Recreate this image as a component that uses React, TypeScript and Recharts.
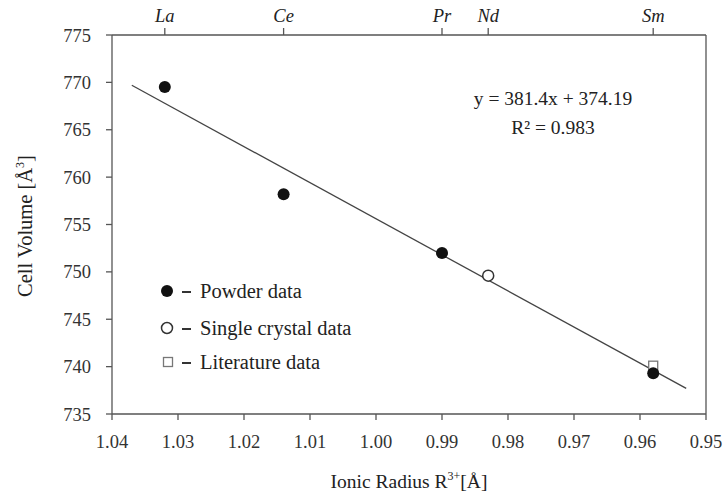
import React from 'react';
import { ScatterChart, Scatter, XAxis, YAxis, ReferenceLine } from 'recharts';

// Powder data (filled circles)
const powderRadius = [1.032, 1.014, 0.99, 0.958];
const powderVolume = [769.5, 758.2, 752.0, 739.3];
// Single crystal data (open circle)
const singleRadius = [0.983];
const singleVolume = [749.6];
// Literature data (open square)
const litRadius = [0.958];
const litVolume = [740.1];
// Fit line end points
const fitRadius = [1.037, 0.953];
const fitVolume = [769.7, 737.7];
// Top axis element labels
const elementNames = ['La', 'Ce', 'Pr', 'Nd', 'Sm'];
const elementRadii = [1.032, 1.014, 0.99, 0.983, 0.958];
// Tick values
const xTicks = [1.04, 1.03, 1.02, 1.01, 1.0, 0.99, 0.98, 0.97, 0.96, 0.95];
const yTicks = [735, 740, 745, 750, 755, 760, 765, 770, 775];

const powderData = powderRadius.map((x, i) => ({ x, y: powderVolume[i] }));
const singleData = singleRadius.map((x, i) => ({ x, y: singleVolume[i] }));
const litData = litRadius.map((x, i) => ({ x, y: litVolume[i] }));
const elementData = elementRadii.map((x) => ({ x, y: 775 }));

const FONT = '"Liberation Serif", "Times New Roman", serif';
const AXIS = '#555';

const FilledDot = (p: any) => <circle cx={p.cx} cy={p.cy} r={6} fill="#111" />;
const OpenDot = (p: any) => (
  <circle cx={p.cx} cy={p.cy} r={5.5} fill="#fff" stroke="#333" strokeWidth={1.5} />
);
const SquareDot = (p: any) => (
  <rect x={p.cx - 4.5} y={p.cy - 4.5} width={9} height={9} fill="#fff" stroke="#777" strokeWidth={1.3} />
);
const NoDot = () => <g />;

const TopTick = (p: any) => {
  const idx = elementRadii.indexOf(p.payload.value);
  return (
    <text x={p.x} y={p.y} textAnchor="middle" fontFamily={FONT} fontSize={18.5} fontStyle="italic" fill="#222">
      {elementNames[idx] ?? ''}
    </text>
  );
};

export default function App() {
  return (
    <div style={{ position: 'absolute', left: 0, top: 0, width: 723, height: 492, background: '#fff' }}>
      <ScatterChart width={723} height={492} margin={{ top: 0, right: 17, bottom: 28, left: 32 }}>
        <XAxis
          xAxisId="b"
          dataKey="x"
          type="number"
          domain={[0.95, 1.04]}
          reversed
          ticks={xTicks}
          tickFormatter={(v: number) => v.toFixed(2)}
          allowDataOverflow
          height={50}
          tickSize={6}
          tickMargin={15}
          axisLine={{ stroke: AXIS, strokeWidth: 1.3 }}
          tickLine={{ stroke: AXIS, strokeWidth: 1.3 }}
          tick={{ fill: '#333', fontSize: 18.5, fontFamily: FONT }}
        />
        <XAxis
          xAxisId="t"
          orientation="top"
          dataKey="x"
          type="number"
          domain={[0.95, 1.04]}
          reversed
          ticks={elementRadii}
          allowDataOverflow
          height={35}
          tickSize={7}
          tickMargin={6}
          axisLine={{ stroke: AXIS, strokeWidth: 1.3 }}
          tickLine={{ stroke: AXIS, strokeWidth: 1.3 }}
          tick={<TopTick />}
        />
        <YAxis
          yAxisId="l"
          dataKey="y"
          type="number"
          domain={[735, 775]}
          ticks={yTicks}
          allowDataOverflow
          width={80}
          tickSize={6}
          tickMargin={15}
          axisLine={{ stroke: AXIS, strokeWidth: 1.3 }}
          tickLine={{ stroke: AXIS, strokeWidth: 1.3 }}
          tick={{ fill: '#333', fontSize: 18.5, fontFamily: FONT }}
        />
        <ReferenceLine xAxisId="b" yAxisId="l" x={0.95} stroke={AXIS} strokeWidth={1.3} ifOverflow="extendDomain" />
        <ReferenceLine
          xAxisId="b"
          yAxisId="l"
          segment={[
            { x: fitRadius[0], y: fitVolume[0] },
            { x: fitRadius[1], y: fitVolume[1] },
          ]}
          stroke="#444"
          strokeWidth={1.3}
        />
        <Scatter xAxisId="t" yAxisId="l" data={elementData} shape={<NoDot />} isAnimationActive={false} />
        <Scatter xAxisId="b" yAxisId="l" data={litData} shape={<SquareDot />} isAnimationActive={false} />
        <Scatter xAxisId="b" yAxisId="l" data={powderData} shape={<FilledDot />} isAnimationActive={false} />
        <Scatter xAxisId="b" yAxisId="l" data={singleData} shape={<OpenDot />} isAnimationActive={false} />
      </ScatterChart>
      <svg
        width={723}
        height={492}
        style={{ position: 'absolute', left: 0, top: 0, pointerEvents: 'none' }}
        fontFamily={FONT}
      >
        {/* equation */}
        <text x={553} y={105} textAnchor="middle" fontSize={19.5} fill="#222">
          y = 381.4x + 374.19
        </text>
        <text x={553} y={134} textAnchor="middle" fontSize={19.5} fill="#222">
          R² = 0.983
        </text>
        {/* legend */}
        <circle cx={167} cy={291} r={6} fill="#111" />
        <line x1={182} x2={191} y1={292} y2={292} stroke="#333" strokeWidth={2} />
        <text x={200} y={298} fontSize={20.5} fill="#222">Powder data</text>
        <circle cx={167} cy={328} r={5.5} fill="#fff" stroke="#333" strokeWidth={1.5} />
        <line x1={182} x2={191} y1={329} y2={329} stroke="#333" strokeWidth={2} />
        <text x={200} y={335} fontSize={20.5} fill="#222">Single crystal data</text>
        <rect x={163.5} y={357.5} width={9} height={9} fill="#fff" stroke="#777" strokeWidth={1.3} />
        <line x1={182} x2={191} y1={363} y2={363} stroke="#333" strokeWidth={2} />
        <text x={200} y={369} fontSize={20.5} fill="#222">Literature data</text>
        {/* axis titles */}
        <text x={409} y={488} textAnchor="middle" fontSize={19.5} fill="#222">
          Ionic Radius R<tspan dy={-8} fontSize={12}>3+</tspan><tspan dy={8}>[Å]</tspan>
        </text>
        <text
          x={0}
          y={0}
          transform="translate(32,226) rotate(-90)"
          textAnchor="middle"
          fontSize={20.5}
          fill="#222"
        >
          Cell Volume [Å<tspan dy={-8} fontSize={12}>3</tspan><tspan dy={8}>]</tspan>
        </text>
      </svg>
    </div>
  );
}
